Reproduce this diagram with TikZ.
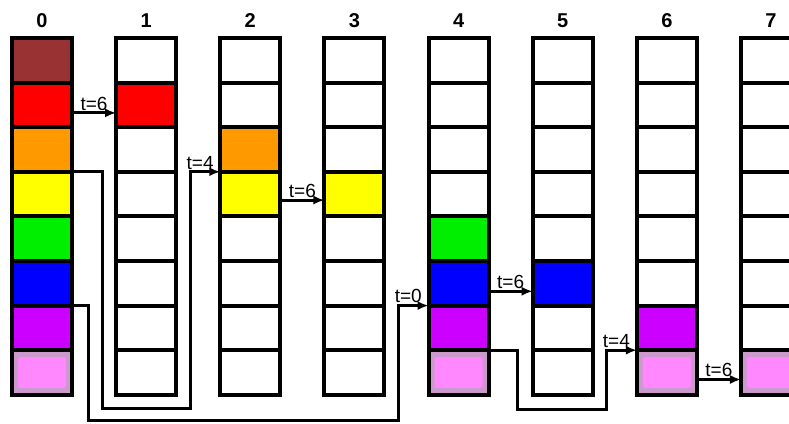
\documentclass[tikz,border=0pt]{standalone}
\usepackage{fontspec}
\setmainfont{Liberation Sans}
\usetikzlibrary{arrows.meta,calc}
\definecolor{kbrown}{RGB}{153,51,51}
\definecolor{kred}{RGB}{255,0,0}
\definecolor{korange}{RGB}{255,153,0}
\definecolor{kyellow}{RGB}{255,255,0}
\definecolor{kgreen}{RGB}{0,238,0}
\definecolor{kblue}{RGB}{0,0,255}
\definecolor{kpurple}{RGB}{204,0,255}
\definecolor{kpinkbg}{RGB}{204,153,204}
\definecolor{kpinkin}{RGB}{255,136,255}
\begin{document}
\begin{tikzpicture}[x=1pt,y=-1pt,
  cell/.style={draw=black,line width=4pt,minimum width=60pt,minimum height=44.6pt,inner sep=0pt,outer sep=0pt},
  head/.style={font=\bfseries\fontsize{20}{20}\selectfont},
  lbl/.style={font=\fontsize{19}{19}\selectfont,inner sep=1pt,above},
  conn/.style={line width=3pt,-{Latex[length=11pt,width=9pt]}},
  pinkin/.style={fill=kpinkin,rounded corners=2pt}]
\useasboundingbox (0,0) rectangle (789,423);
\clip (0,0) rectangle (789,423);
\fill[white] (0,0) rectangle (789,423);
\foreach \i/\cols in {
  0/{kbrown,kred,korange,kyellow,kgreen,kblue,kpurple,kpinkbg},
  1/{white,kred,white,white,white,white,white,white},
  2/{white,white,korange,kyellow,white,white,white,white},
  3/{white,white,white,kyellow,white,white,white,white},
  4/{white,white,white,white,kgreen,kblue,kpurple,kpinkbg},
  5/{white,white,white,white,white,kblue,white,white},
  6/{white,white,white,white,white,white,kpurple,kpinkbg},
  7/{white,white,white,white,white,white,white,kpinkbg}}{
  \node[head] (h\i) at (42+104.14*\i,21) {\i};
  \foreach \c [count=\r from 0] in \cols {
    \node[cell,fill=\c] (c\i r\r) at (42+104.14*\i,38+44.6*\r+22.3) {};
  }
}
\foreach \i in {0,4,6,7}{
  \fill[pinkin] ([shift={(6,7)}]c\i r7.north west) rectangle ([shift={(-6,-7)}]c\i r7.south east);
}
\draw[conn] ([yshift=-8pt]c0r1.east) -- node[lbl]{t=6} ([yshift=-8pt]c1r1.west);
\draw[conn] (c0r2.south east) -| (102,408) -- (190,408) |- node[pos=0.75,lbl,xshift=-5pt]{t=4} (c2r2.south west);
\draw[conn] ([yshift=-6pt]c2r3.east) -- node[lbl]{t=6} ([yshift=-6pt]c3r3.west);
\draw[conn] (c0r5.south east) -| (88,420) -- (398,420) |- node[pos=0.75,lbl,xshift=-5pt]{t=0} (c4r5.south west);
\draw[conn] ([yshift=-8pt]c4r5.east) -- node[lbl]{t=6} ([yshift=-8pt]c5r5.west);
\draw[conn] (c4r6.south east) -| (517,409) -- (606,409) |- node[pos=0.75,lbl,xshift=-5pt]{t=4} (c6r6.south west);
\draw[conn] ([yshift=-7pt]c6r7.east) -- node[lbl]{t=6} ([yshift=-7pt]c7r7.west);
\end{tikzpicture}
\end{document}
